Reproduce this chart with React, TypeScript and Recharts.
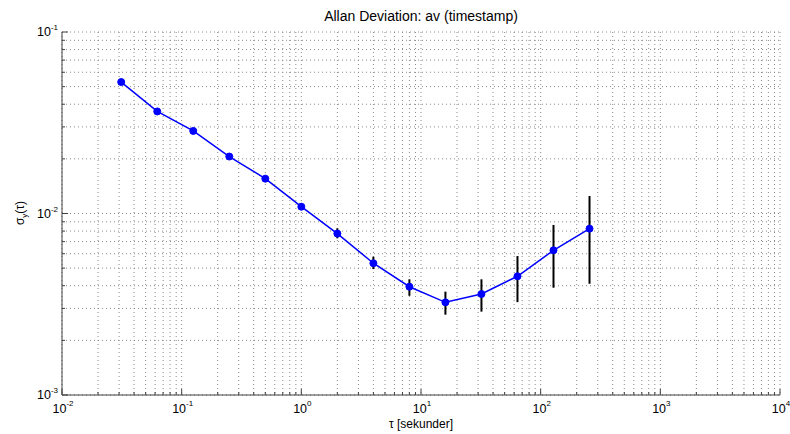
import { LineChart, Line, XAxis, YAxis, CartesianGrid, ErrorBar } from 'recharts';

// tau in seconds, Allan deviation with its confidence bounds
const tau = [0.03125, 0.0625, 0.125, 0.25, 0.5, 1, 2, 4, 8, 16, 32, 64, 128, 256];
const adev = [0.053, 0.0365, 0.0285, 0.0206, 0.01556, 0.0109, 0.00775, 0.00532, 0.00395, 0.00324, 0.0036, 0.00451, 0.00627, 0.00825];
const adevHigh = [0.0537, 0.037, 0.029, 0.021, 0.0159, 0.01132, 0.00829, 0.00578, 0.00434, 0.00371, 0.00434, 0.00583, 0.00865, 0.01248];
const adevLow = [0.0523, 0.036, 0.028, 0.0202, 0.0152, 0.0105, 0.0073, 0.00494, 0.00352, 0.00277, 0.00288, 0.00325, 0.0039, 0.0041];

const xDecades = [-2, -1, 0, 1, 2, 3, 4];
const yDecades = [-3, -2, -1];

const AXIS = '#404040';
const FONT = '"Liberation Sans", Arial, Helvetica, sans-serif';

const data = tau.map((t, i) => ({
  tau: t,
  adev: adev[i],
  err: [adev[i] - adevLow[i], adevHigh[i] - adev[i]],
}));

// decades plus 2..9 minor steps in between
const logTicks = (decades: number[]) => {
  const out: number[] = [];
  decades.forEach((d, i) => {
    if (i === decades.length - 1) {
      out.push(Number(Math.pow(10, d).toPrecision(6)));
      return;
    }
    for (let m = 1; m <= 9; m++) out.push(Number((m * Math.pow(10, d)).toPrecision(6)));
  });
  return out;
};

const xTicks = logTicks(xDecades);
const yTicks = logTicks(yDecades);

const isMajor = (v: number) => Math.abs(Math.log10(v) - Math.round(Math.log10(v))) < 1e-6;
const expOf = (v: number) => Math.round(Math.log10(v));

const BottomTick = ({ x, y, payload }: any) => {
  const v = payload.value;
  const major = isMajor(v);
  return (
    <g>
      <line x1={x} y1={y} x2={x} y2={y - (major ? 6 : 3)} stroke={AXIS} />
      {major && (
        <text x={x + 1} y={y + 18} textAnchor="middle" fontSize={12.5} fill="#000" fontFamily={FONT}>
          10<tspan dy={-7} fontSize={8}>{expOf(v)}</tspan>
        </text>
      )}
    </g>
  );
};

const TopTick = ({ x, y, payload }: any) => {
  const major = isMajor(payload.value);
  return <line x1={x} y1={y} x2={x} y2={y + (major ? 6 : 3)} stroke={AXIS} />;
};

const LeftTick = ({ x, y, payload }: any) => {
  const v = payload.value;
  const major = isMajor(v);
  return (
    <g>
      <line x1={x} y1={y} x2={x + (major ? 6 : 3)} y2={y} stroke={AXIS} />
      {major && (
        <text x={x - 4} y={y + 4} textAnchor="end" fontSize={12.5} fill="#000" fontFamily={FONT}>
          10<tspan dy={-6} fontSize={8}>{expOf(v)}</tspan>
        </text>
      )}
    </g>
  );
};

const RightTick = ({ x, y, payload }: any) => {
  const major = isMajor(payload.value);
  return <line x1={x} y1={y} x2={x - (major ? 6 : 3)} y2={y} stroke={AXIS} />;
};

export default function App() {
  return (
    <div style={{ position: 'absolute', left: 0, top: 0, width: 790, height: 434, background: '#fff', fontFamily: FONT }}>
      <LineChart width={790} height={434} data={data} margin={{ top: 32, right: 10, left: 0, bottom: 0 }}>
        <CartesianGrid stroke="#8a8a8a" strokeDasharray="1 3" />
        <XAxis
          dataKey="tau"
          type="number"
          scale="log"
          domain={[0.01, 10000]}
          ticks={xTicks}
          interval={0}
          height={39}
          tickSize={0}
          tickMargin={0}
          tickLine={false}
          axisLine={{ stroke: AXIS }}
          tick={<BottomTick />}
          allowDataOverflow
        />
        <XAxis
          xAxisId="top"
          orientation="top"
          dataKey="tau"
          type="number"
          scale="log"
          domain={[0.01, 10000]}
          ticks={xTicks}
          interval={0}
          height={0}
          tickSize={0}
          tickMargin={0}
          tickLine={false}
          axisLine={{ stroke: AXIS }}
          tick={<TopTick />}
          allowDataOverflow
        />
        <YAxis
          type="number"
          scale="log"
          domain={[0.001, 0.1]}
          ticks={yTicks}
          interval={0}
          width={62}
          tickSize={0}
          tickMargin={0}
          tickLine={false}
          axisLine={{ stroke: AXIS }}
          tick={<LeftTick />}
          allowDataOverflow
        />
        <YAxis
          yAxisId="right"
          orientation="right"
          type="number"
          scale="log"
          domain={[0.001, 0.1]}
          ticks={yTicks}
          interval={0}
          width={0}
          tickSize={0}
          tickMargin={0}
          tickLine={false}
          axisLine={{ stroke: AXIS }}
          tick={<RightTick />}
          allowDataOverflow
        />
        <Line
          dataKey="adev"
          stroke="#0000ff"
          strokeWidth={1.5}
          dot={{ r: 3.5, fill: '#0000ff', stroke: '#0000ff', strokeWidth: 1 }}
          activeDot={false}
          isAnimationActive={false}
        />
        <Line dataKey="adev" stroke="none" dot={false} activeDot={false} isAnimationActive={false}>
          <ErrorBar dataKey="err" direction="y" width={0} stroke="#000" strokeWidth={2} isAnimationActive={false} />
        </Line>
      </LineChart>
      <div style={{ position: 'absolute', left: 62, width: 718, top: 8, textAlign: 'center', fontSize: 14, lineHeight: '16px' }}>
        Allan Deviation: av (timestamp)
      </div>
      <div style={{ position: 'absolute', left: 62, width: 718, top: 417, textAlign: 'center', fontSize: 12, lineHeight: '14px' }}>
        τ [sekunder]
      </div>
      <div
        style={{
          position: 'absolute',
          left: -10,
          top: 206,
          width: 60,
          height: 14,
          lineHeight: '14px',
          textAlign: 'center',
          fontSize: 12,
          transform: 'rotate(-90deg)',
        }}
      >
        σ<sub style={{ fontSize: 8 }}>y</sub>(τ)
      </div>
    </div>
  );
}
